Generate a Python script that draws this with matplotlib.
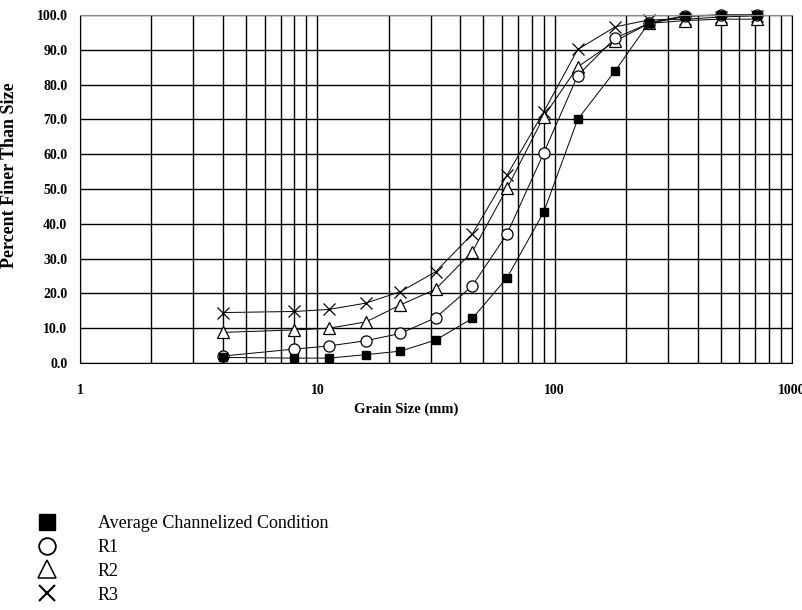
import matplotlib.pyplot as plt
from matplotlib.lines import Line2D
from matplotlib.ticker import FixedLocator, NullFormatter, FixedFormatter

# Sieve sizes (mm) and percent finer for each reach
tamiz = [4, 8, 11.2, 16, 22.4, 31.5, 45, 63, 90, 125, 180, 250, 355, 500, 710]
promedio = [1.6, 1.4, 1.4, 2.4, 3.4, 6.6, 12.8, 24.5, 43.4, 70.0, 84.0, 97.8, 99.8, 100.0, 100.0]
r1 = [2.0, 4.0, 4.9, 6.4, 8.5, 13.0, 22.2, 37.1, 60.4, 82.6, 93.4, 97.6, 99.6, 100.0, 100.0]
r2 = [8.8, 9.5, 10.0, 11.8, 16.7, 21.2, 32.0, 50.2, 70.8, 85.1, 92.5, 97.6, 98.4, 98.8, 98.8]
r3 = [14.5, 14.8, 15.4, 17.2, 20.5, 26.2, 37.1, 54.0, 72.2, 90.1, 96.6, 98.6, 98.8, 99.4, 99.8]

etiquetas = ["Average Channelized Condition", "R1", "R2", "R3"]
y_ticks = [0, 10, 20, 30, 40, 50, 60, 70, 80, 90, 100]
x_ticks = [1, 10, 100, 1000]

serif = "Liberation Serif"

fig = plt.figure(figsize=(8.03, 6.10), dpi=100)
ax = fig.add_axes([80 / 803, (610 - 363) / 610, 712 / 803, 348 / 610])

estilos = [
    dict(marker="s", markersize=6, markerfacecolor="black", markeredgecolor="black"),
    dict(marker="o", markersize=8, markerfacecolor="white", markeredgecolor="black", markeredgewidth=0.9),
    dict(marker="^", markersize=9, markerfacecolor="white", markeredgecolor="black", markeredgewidth=0.9),
    dict(marker="x", markersize=9, markeredgecolor="black", markeredgewidth=0.9),
]

series = [promedio, r1, r2, r3]
# draw from back (R3) to front so the filled squares stay on top
for valores, estilo in reversed(list(zip(series, estilos))):
    ax.plot(tamiz, valores, color="black", linewidth=0.7, clip_on=False, **estilo)

ax.set_xscale("log")
ax.set_xlim(1, 1000)
ax.set_ylim(0, 100)

ax.xaxis.set_major_locator(FixedLocator(x_ticks))
ax.xaxis.set_major_formatter(FixedFormatter([str(v) for v in x_ticks]))
menores = [m * d for d in (1, 10, 100) for m in range(2, 10)]
ax.xaxis.set_minor_locator(FixedLocator(menores))
ax.xaxis.set_minor_formatter(NullFormatter())
ax.yaxis.set_major_locator(FixedLocator(y_ticks))
ax.set_yticklabels(["%.1f" % v for v in y_ticks])

ax.grid(True, which="both", color="black", linewidth=1.0)
ax.set_axisbelow(True)
ax.tick_params(which="both", length=0)
ax.tick_params(axis="x", pad=15)
ax.tick_params(axis="y", pad=9)
for lbl in ax.get_xticklabels() + ax.get_yticklabels():
    lbl.set_fontfamily(serif)
    lbl.set_fontweight("bold")
    lbl.set_fontsize(10)

for lado in ("left", "bottom", "right"):
    ax.spines[lado].set_color("black")
ax.spines["top"].set_color("#888888")

ax.set_xlabel("Grain Size (mm)", fontfamily=serif, fontweight="bold", fontsize=10.5)
ax.xaxis.set_label_coords((406 - 80) / 712, -(403 - 363) / 348)
ax.set_ylabel("Percent Finer Than Size", fontfamily=serif, fontweight="bold", fontsize=13)
ax.yaxis.set_label_coords((18 - 80) / 712, (363 - 175) / 348)

# legend below the plot
manejadores = [
    Line2D([], [], linestyle="none", marker="s", markersize=11, markerfacecolor="black", markeredgecolor="black"),
    Line2D([], [], linestyle="none", marker="o", markersize=12, markerfacecolor="white", markeredgecolor="black", markeredgewidth=1.3),
    Line2D([], [], linestyle="none", marker="^", markersize=13, markerfacecolor="white", markeredgecolor="black", markeredgewidth=1.1),
    Line2D([], [], linestyle="none", marker="x", markersize=12, markeredgecolor="black", markeredgewidth=1.5),
]
fig.legend(manejadores, etiquetas, loc="upper left", bbox_to_anchor=(29 / 803, 1 - 506 / 610),
           frameon=False, prop={"family": serif, "size": 13},
           handlelength=1.0, handletextpad=2.3, labelspacing=0.38, borderpad=0)

fig.savefig("out.png", dpi=100)
